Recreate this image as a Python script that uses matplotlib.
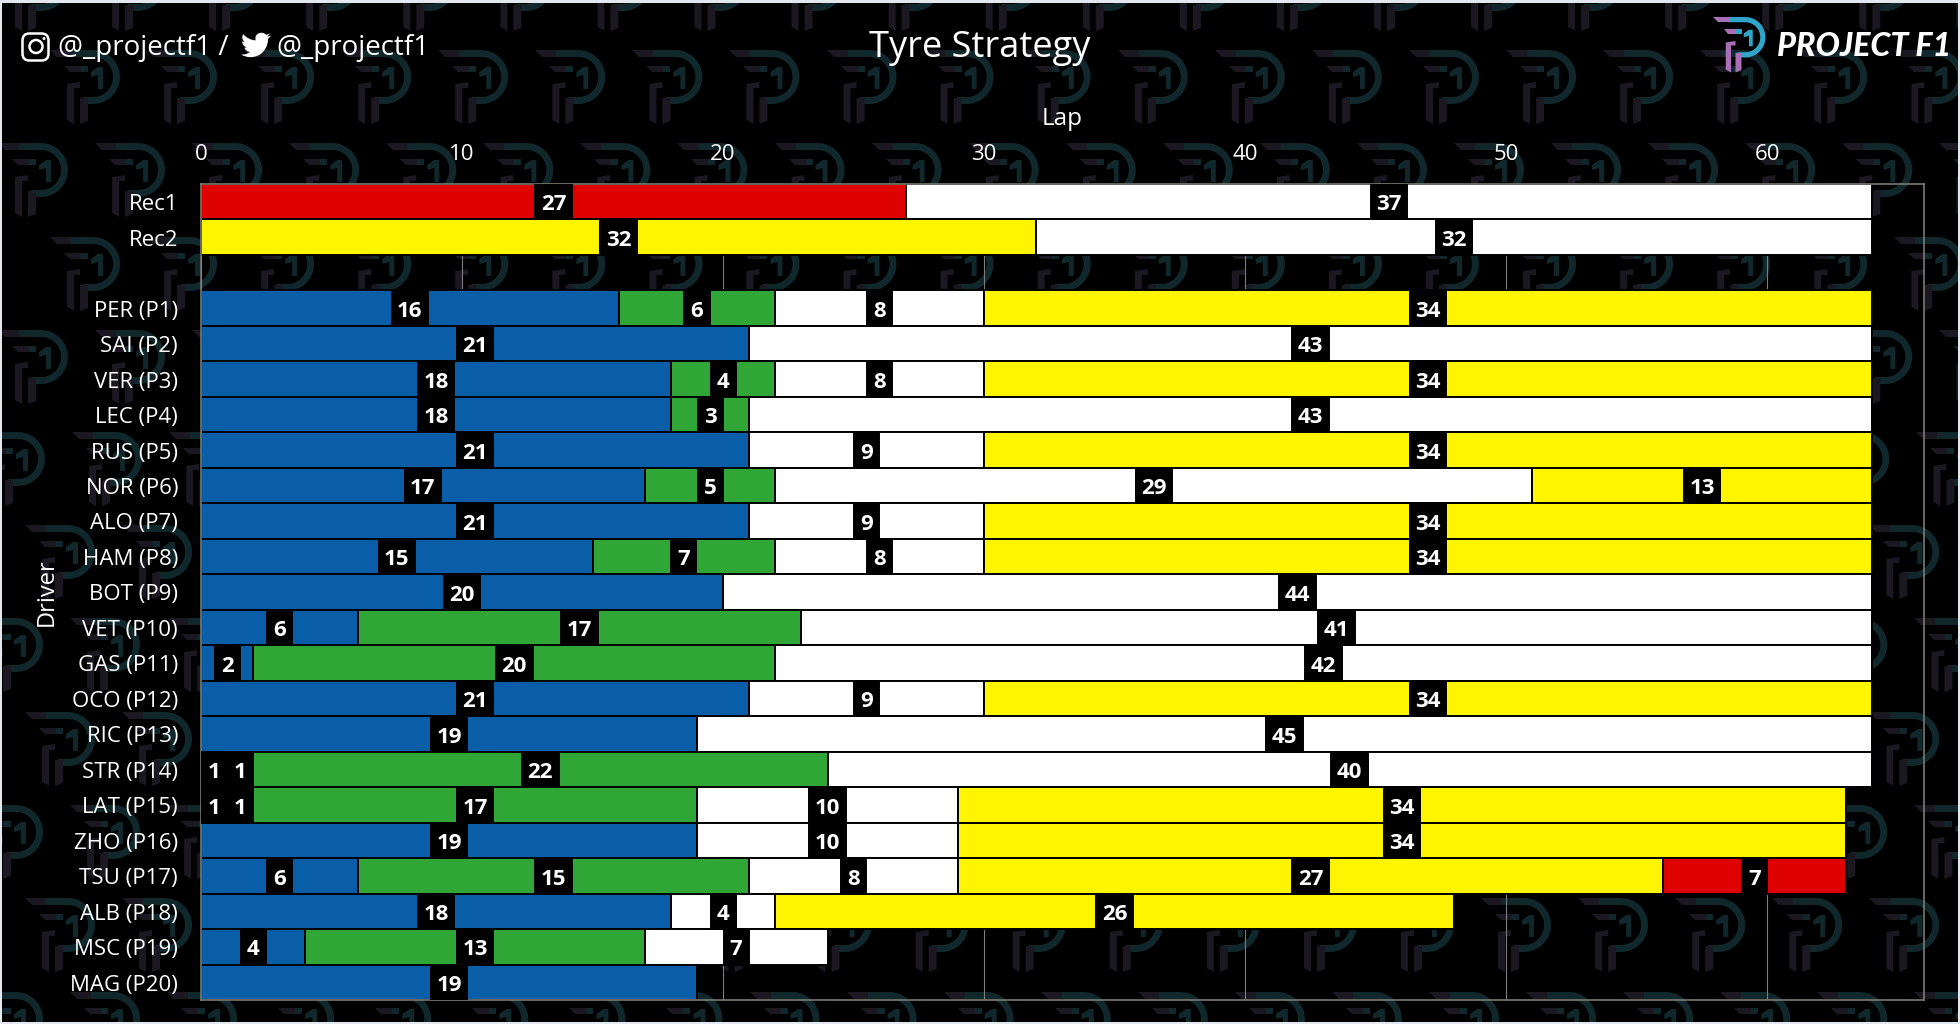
import numpy as np
import matplotlib.pyplot as plt
from matplotlib.path import Path
from matplotlib.patches import PathPatch, Rectangle, FancyBboxPatch, Circle
from matplotlib.transforms import ScaledTranslation

plt.rcParams['font.family'] = ['Open Sans', 'DejaVu Sans']

drivers = ["Rec1", "Rec2", "", "PER (P1)", "SAI (P2)", "VER (P3)", "LEC (P4)", "RUS (P5)", "NOR (P6)",
           "ALO (P7)", "HAM (P8)", "BOT (P9)", "VET (P10)", "GAS (P11)", "OCO (P12)", "RIC (P13)",
           "STR (P14)", "LAT (P15)", "ZHO (P16)", "TSU (P17)", "ALB (P18)", "MSC (P19)", "MAG (P20)"]

stint_laps = [[27, 37], [32, 32], [], [16, 6, 8, 34], [21, 43], [18, 4, 8, 34], [18, 3, 43], [21, 9, 34],
              [17, 5, 29, 13], [21, 9, 34], [15, 7, 8, 34], [20, 44], [6, 17, 41], [2, 20, 42], [21, 9, 34],
              [19, 45], [1, 1, 22, 40], [1, 1, 17, 10, 34], [19, 10, 34], [6, 15, 8, 27, 7], [18, 4, 26],
              [4, 13, 7], [19]]

stint_tyres = ["SH", "MH", "", "WIHM", "WH", "WIHM", "WIH", "WHM", "WIHM", "WHM", "WIHM", "WH", "WIH", "WIH",
               "WHM", "WH", "WWIH", "WWIHM", "WHM", "WIHMS", "WHM", "WIH", "W"]

tyre_colors = {"S": "#df0000", "M": "#fff500", "H": "#ffffff", "I": "#30a636", "W": "#0a5ea8"}

lap_ticks = [0, 10, 20, 30, 40, 50, 60]

# watermark rows: top of the logo and right edge of the first logo, in pixels
mark_tops = [-43, 50, 143, 237, 330, 432, 525, 618, 712, 805, 898, 992]
mark_rights = [68, 120, 68, 120, 68, 45, 95, 43, 95, 43, 95, 43]
mark_step = 97.07


def arc_points():
    t = np.linspace(-np.pi / 2, np.pi / 2, 30)
    outer = np.c_[43 + 27 * np.cos(t), 27 + 27 * np.sin(t)]
    inner = np.c_[43 + 20 * np.cos(t[::-1]), 27 + 20 * np.sin(t[::-1])]
    return np.vstack([[[20, 0]], outer, [[33, 54], [33, 47]], inner, [[20, 7]]])


logo_arc = [arc_points(), np.array([[48, 17], [53, 17], [53, 39], [48, 39], [48, 25], [41, 27], [41, 22]]),
            np.array([[30, 16], [38, 16], [38, 22], [30, 22]])]
logo_stem = [np.array([[0, 0], [21, 0], [21, 7], [7, 7]]), np.array([[14, 16], [31, 16], [31, 22], [20, 22]]),
             np.array([[17, 34], [30, 32], [30, 38], [24, 38], [24, 74], [17, 70]]),
             np.array([[30, 48], [38, 48], [38, 71], [30, 74]])]


def draw_logo(ax, x, y, scale, arc_color, stem_color, zorder):
    for shape, color in [(logo_arc, arc_color), (logo_stem, stem_color)]:
        for pts in shape:
            ax.add_patch(plt.Polygon(pts * scale + [x, y], closed=True, facecolor=color, edgecolor='none',
                                     zorder=zorder))


fig = plt.figure(figsize=(19.6, 10.24), dpi=100, facecolor='black')

bg = fig.add_axes([0, 0, 1, 1], zorder=0)
bg.set_xlim(0, 1960)
bg.set_ylim(1024, 0)
bg.axis('off')

for top, right in zip(mark_tops, mark_rights):
    for k in range(22):
        draw_logo(bg, right - 70 + k * mark_step, top, 1.0, '#10272b', '#1b1822', 1)

# border of the screenshot
for rect in [(0, 0, 1960, 3), (0, 1022, 1960, 2), (0, 0, 2, 1024), (1958, 0, 2, 1024)]:
    bg.add_patch(Rectangle(rect[:2], rect[2], rect[3], facecolor='#e3e8ee', edgecolor='none', zorder=2))

bg.text(980, 48, "Tyre Strategy", color='white', fontsize=26, ha='center', va='center', zorder=3)
bg.text(58, 48, "@_projectf1 /", color='white', fontsize=20, ha='left', va='center', zorder=3)
bg.text(276, 48, "@_projectf1", color='white', fontsize=20, ha='left', va='center', zorder=3)

# instagram icon
bg.add_patch(FancyBboxPatch((26, 37), 19, 20, boxstyle="round,pad=3.5,rounding_size=7", facecolor='none',
                            edgecolor='white', lw=1.8, zorder=3))
bg.add_patch(Circle((36, 46.5), 6.5, facecolor='none', edgecolor='white', lw=1.8, zorder=3))
bg.add_patch(Circle((44, 38.5), 1.5, facecolor='white', edgecolor='none', zorder=3))

# twitter icon
bird_verts = [(23.95, 4.57), (21.13, 5.35), (23.29, 2.62), (22.3, 3.2), (21.28, 3.57), (20.16, 3.8),
              (18.5, 2.0), (15.5, 1.6), (13.2, 3.2), (11.6, 4.4), (11.1, 6.4), (11.78, 8.29),
              (7.69, 8.1), (4.07, 6.13), (1.64, 3.16), (0.97, 5.64), (0.97, 7.35), (1.84, 8.85), (3.16, 9.73),
              (0.93, 9.12), (0.93, 9.18), (0.93, 11.5), (2.6, 13.5), (4.88, 14.0), (2.67, 14.09),
              (3.3, 16.0), (5.1, 17.4), (7.27, 17.5), (5.6, 18.9), (3.4, 19.6), (1.17, 19.6), (0, 19.54),
              (2.3, 21.0), (4.9, 21.75), (7.56, 21.75), (16.6, 21.75), (21.56, 14.25), (21.56, 7.77),
              (21.56, 7.5), (21.56, 7.35), (21.55, 7.14), (24, 4.59), (23.95, 4.57)]
bird_codes = [Path.MOVETO, Path.LINETO, Path.LINETO, Path.LINETO, Path.LINETO, Path.LINETO,
              Path.CURVE4, Path.CURVE4, Path.CURVE4, Path.CURVE4, Path.CURVE4, Path.CURVE4,
              Path.CURVE4, Path.CURVE4, Path.CURVE4, Path.LINETO, Path.CURVE4, Path.CURVE4, Path.CURVE4,
              Path.LINETO, Path.LINETO, Path.CURVE4, Path.CURVE4, Path.CURVE4, Path.LINETO,
              Path.CURVE4, Path.CURVE4, Path.CURVE4, Path.CURVE4, Path.CURVE4, Path.CURVE4, Path.LINETO,
              Path.CURVE4, Path.CURVE4, Path.CURVE4, Path.CURVE4, Path.CURVE4, Path.CURVE4,
              Path.CURVE4, Path.CURVE4, Path.CURVE4, Path.LINETO, Path.CLOSEPOLY]
bird = np.array(bird_verts) * 30 / 24 + [241, 30]
bg.add_patch(PathPatch(Path(bird, bird_codes), facecolor='white', edgecolor='none', zorder=3))

# top right logo
draw_logo(bg, 1713, 17, 0.75, '#2fa5ca', '#a96fb6', 3)
bg.text(1777, 47, "PROJECT F1", color='white', fontsize=23.2, fontfamily='Lato', fontweight='black',
        fontstyle='italic', ha='left', va='center', zorder=3)

ax = fig.add_axes([201 / 1960, 1 - 1000 / 1024, 1723 / 1960, 816 / 1024], zorder=1)
ax.patch.set_alpha(0)

y_pos = np.arange(len(drivers))
for y, laps, tyres in zip(y_pos, stint_laps, stint_tyres):
    start = 0
    for n, t in zip(laps, tyres):
        ax.barh(y, n, left=start, height=1, color=tyre_colors[t], edgecolor='black', linewidth=1.4, zorder=2)
        box = 1.4 if n >= 10 else 0.96
        centre = start + n / 2
        ax.barh(y, box, left=centre - box / 2, height=1, color='black', edgecolor='black', linewidth=1.4, zorder=3)
        ax.text(centre, y + 0.09, str(n), color='white', fontsize=16, fontweight='bold', ha='center',
                va='center', zorder=4)
        start += n

ax.set_xlim(0, 66)
ax.set_ylim(len(drivers) - 0.5, -0.5)
ax.xaxis.tick_top()
ax.xaxis.set_label_position('top')
ax.set_xticks(lap_ticks)
ax.set_yticks(y_pos)
ax.set_yticklabels(drivers)
ax.tick_params(axis='x', length=0, pad=14, labelsize=16, labelcolor='white')
ax.tick_params(axis='y', length=0, pad=16.5, labelsize=16, labelcolor='white')
down = ScaledTranslation(0, -0.3 / 72, fig.dpi_scale_trans)
for lab in ax.get_yticklabels():
    lab.set_transform(lab.get_transform() + down)
ax.set_xlabel("Lap", color='white', fontsize=17.5)
ax.xaxis.set_label_coords(0.5, 1 + 59 / 816)
ax.set_ylabel("Driver", color='white', fontsize=17)
ax.yaxis.set_label_coords(-0.0825, 0.5)
ax.grid(axis='x', color='#7d7d7d', linewidth=0.8)
ax.set_axisbelow(True)
for spine in ax.spines.values():
    spine.set_color('#84847a')
    spine.set_linewidth(1.1)

fig.savefig("out.png", dpi=100, facecolor='black')
